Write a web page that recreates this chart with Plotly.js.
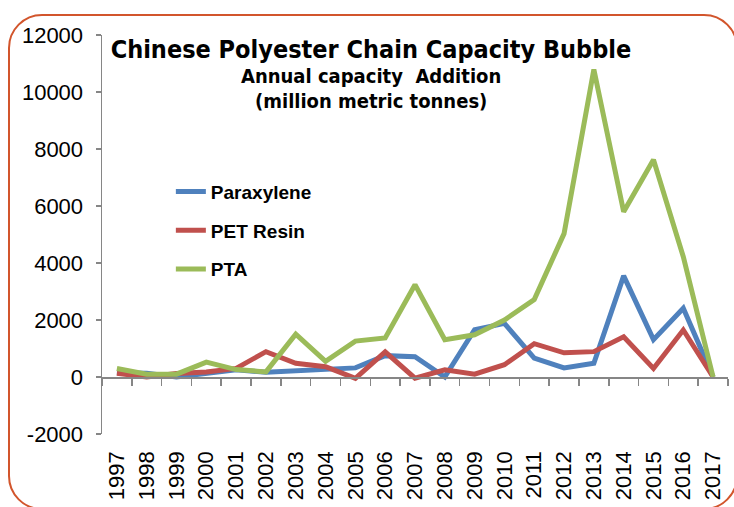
<!DOCTYPE html>
<html>
<head>
<meta charset="utf-8">
<script src="https://cdn.plot.ly/plotly-3.0.1.min.js"></script>
<style>
  html, body { margin: 0; padding: 0; background: #fff; }
  #wrap { position: relative; width: 734px; height: 507px; }
  #chart { width: 734px; height: 507px; }
  #frame { position: absolute; left: 8px; top: 14px; width: 730px; height: 496px;
           border: 2px solid #D2552C; border-radius: 34px; pointer-events: none; box-sizing: border-box; }
</style>
</head>
<body>
<div id="wrap">
  <div id="chart"></div>
  <div id="frame"></div>
</div>
<script>
const years = ['1997','1998','1999','2000','2001','2002','2003','2004','2005','2006','2007',
               '2008','2009','2010','2011','2012','2013','2014','2015','2016','2017'];
const paraxylene = [150, 130, 0, 130, 250, 170, 220, 290, 320, 750, 710, 0, 1660, 1880, 660, 320, 480, 3550, 1310, 2410, 0];
const petResin   = [130, 0, 120, 175, 300, 890, 480, 360, -50, 880, -40, 250, 100, 430, 1170, 850, 890, 1410, 300, 1650, 0];
const pta        = [300, 100, 100, 520, 260, 180, 1500, 550, 1260, 1370, 3240, 1310, 1480, 2000, 2720, 5030, 10790, 5800, 7620, 4220, 0];
const seriesNames = ['Paraxylene', 'PET Resin', 'PTA'];
const yTicks = [-2000, 0, 2000, 4000, 6000, 8000, 10000, 12000];

const colors = ['#4F81BD', '#C0504D', '#9BBB59'];
const values = [paraxylene, petResin, pta];

const traces = values.map((v, i) => ({
  type: 'scatter', mode: 'lines', x: years, y: v, name: seriesNames[i],
  legendgroup: 'g' + i,
  line: { color: colors[i], width: 5 }
}));

const axisFont = { family: 'Liberation Sans, Arial, sans-serif', size: 22, color: '#000' };
const narrow = 'Liberation Sans Narrow, DejaVu Sans Condensed, Arial Narrow, Liberation Sans, sans-serif';

const layout = {
  width: 734, height: 507,
  margin: { l: 102, r: 6, t: 35, b: 73 },
  paper_bgcolor: '#fff', plot_bgcolor: '#fff',
  showlegend: true,
  legend: {
    x: 0.11, y: 0.655, xanchor: 'left', yanchor: 'top',
    bgcolor: 'rgba(0,0,0,0)', tracegroupgap: 11,
    font: { family: 'Liberation Sans, Arial, sans-serif', size: 19, color: '#000', weight: 'bold' }
  },
  title: {
    text: 'Chinese Polyester Chain Capacity Bubble',
    xref: 'container', yref: 'container', x: 0.5054, y: 0.903, xanchor: 'center', yanchor: 'middle',
    font: { family: narrow, size: 25, color: '#000', weight: 'bold' }
  },
  annotations: [
    { text: 'Annual capacity \u00a0Addition', xref: 'paper', yref: 'paper', x: 0.4297, y: 0.897,
      showarrow: false, xanchor: 'center', yanchor: 'middle',
      font: { family: narrow, size: 20, color: '#000', weight: 'bold' } },
    { text: '(million metric tonnes)', xref: 'paper', yref: 'paper', x: 0.4297, y: 0.835,
      showarrow: false, xanchor: 'center', yanchor: 'middle',
      font: { family: narrow, size: 20, color: '#000', weight: 'bold' } }
  ],
  xaxis: {
    type: 'category', categoryarray: years, range: [-0.5, years.length - 0.5],
    anchor: 'free', position: 2000 / 14000,
    showline: true, linecolor: '#868686', linewidth: 1.5,
    ticks: 'outside', tickson: 'boundaries', ticklen: 7, tickcolor: '#868686', tickwidth: 1.5,
    tickangle: -90, ticklabelstandoff: 64,
    showgrid: false, zeroline: false, tickfont: axisFont, fixedrange: true
  },
  yaxis: {
    range: [-2000, 12000], tickvals: yTicks, ticktext: yTicks.map(String),
    showline: true, linecolor: '#868686', linewidth: 1.5,
    ticks: 'outside', ticklen: 5, tickcolor: '#868686', tickwidth: 1.5,
    showgrid: false, zeroline: false, tickfont: axisFont, ticklabelstandoff: 8, fixedrange: true
  }
};

Plotly.newPlot('chart', traces, layout, { displayModeBar: false, staticPlot: true });
</script>
</body>
</html>
